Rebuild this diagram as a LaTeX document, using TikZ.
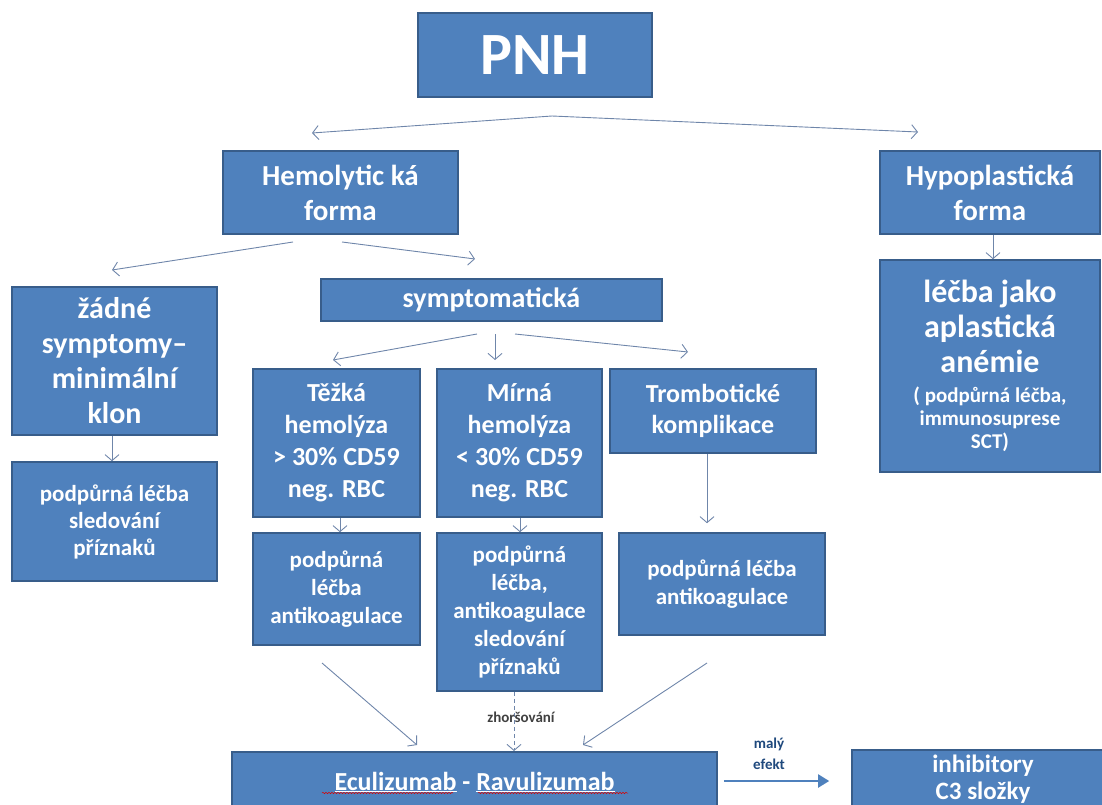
\documentclass[tikz,border=0pt]{standalone}
\usepackage{fontspec}
\setmainfont{Carlito}
\usetikzlibrary{arrows.meta,decorations.pathmorphing}
\definecolor{boxfill}{HTML}{4F81BD}
\definecolor{boxline}{HTML}{385D8A}
\definecolor{conn}{HTML}{6F86AA}
\definecolor{lbl}{HTML}{1F497D}
\definecolor{lbltwo}{HTML}{404040}
\newcommand{\fs}[2]{\fontsize{#1}{#2}\selectfont}
\begin{document}
\begin{tikzpicture}[x=1pt,y=-1pt,
  box/.style={draw=boxline, line width=1.6pt, fill=boxfill, text=white,
    font=\bfseries, align=center, inner sep=0pt},
  conn/.style={draw=conn, line width=0.9pt, -{Straight Barb[length=6pt,width=14pt]}},
  connd/.style={conn, dash pattern=on 4pt off 3pt},
  bigarrow/.style={draw=boxfill, line width=2pt, -{Triangle[length=11pt,width=13pt]}},
  lab/.style={font=\bfseries, inner sep=0pt, align=center}]
\useasboundingbox (0,0) rectangle (1102,805);
\clip (0,0) rectangle (1102,805);

% boxes
\node[box, minimum width=234pt, minimum height=84pt, font=\bfseries\fs{60}{66}] (pnh) at (535,55) {PNH};
\node[box, minimum width=235pt, minimum height=83pt, font=\bfseries\fs{29}{35}] (hemo) at (340.5,192.5) {Hemolytic ká\\forma};
\node[box, minimum width=220pt, minimum height=83pt, font=\bfseries\fs{29}{35}] (hypo) at (990,192.5) {Hypoplastická\\forma};
\node[box, minimum width=220pt, minimum height=212pt, font=\bfseries\fs{32}{35}] (aplas) at (990,366)
  {léčba jako\\aplastická\\anémie\\[-5pt]\fs{21}{23}( podpůrná léčba,\\[-12pt]\fs{21}{23}immunosuprese\\[-12pt]\fs{21}{23}SCT)};
\node[box, minimum width=205pt, minimum height=148pt, font=\bfseries\fs{30}{35}] (zadne) at (114.5,361)
  {žádné\\symptomy–\\minimální\\klon};
\node[box, minimum width=205pt, minimum height=119pt, font=\bfseries\fs{23}{27}] (podpL) at (114.5,521.5)
  {podpůrná léčba\\sledování\\příznaků};
\node[box, minimum width=341pt, minimum height=42pt, font=\bfseries\fs{28}{32}] (sympt) at (491.5,300) {symptomatická};
\node[box, minimum width=167pt, minimum height=148pt, font=\bfseries\fs{26}{32}] (tezka) at (336.5,443)
  {Těžká\\hemolýza\\> 30\% CD59\\neg. RBC};
\node[box, minimum width=165pt, minimum height=148pt, font=\bfseries\fs{26}{32}] (mirna) at (519.5,443)
  {Mírná\\hemolýza\\< 30\% CD59\\neg. RBC};
\node[box, minimum width=206pt, minimum height=84pt, font=\bfseries\fs{26}{31}] (tromb) at (713,411)
  {Trombotické\\komplikace};
\node[box, minimum width=167pt, minimum height=112pt, font=\bfseries\fs{23}{28}] (podpT) at (336.5,589)
  {podpůrná\\léčba\\antikoagulace};
\node[box, minimum width=165pt, minimum height=158pt, font=\bfseries\fs{23}{28}] (podpM) at (519.5,612)
  {podpůrná\\léčba,\\antikoagulace\\sledování\\příznaků};
\node[box, minimum width=206pt, minimum height=102pt, font=\bfseries\fs{23}{28}] (podpTr) at (722,584)
  {podpůrná léčba\\antikoagulace};
\node[box, minimum width=485pt, minimum height=60pt, font=\bfseries\fs{26}{30}] (ecu) at (474.5,782)
  {\underline{Eculizumab} - \underline{Ravulizumab}};
\node[box, minimum width=262pt, minimum height=58pt, font=\bfseries\fs{25}{27}] (inhib) at (983,779)
  {inhibitory\\C3 složky};

% spell-check squiggles
\draw[red!85!black, line width=0.5pt, decorate, decoration={snake, amplitude=0.7pt, segment length=3pt}]
  (322,793) -- (453,793);
\draw[red!85!black, line width=0.5pt, decorate, decoration={snake, amplitude=0.7pt, segment length=3pt}]
  (478,793) -- (628,793);

% connector coordinates
\coordinate (apex) at (552,116);
\coordinate (pnhL) at (312,133);
\coordinate (pnhR) at (918,132);
\coordinate (hemoA) at (293,242);
\coordinate (hemoB) at (342,242);
\coordinate (hemoL) at (112,270);
\coordinate (hemoR) at (475,259);
\coordinate (syA) at (477,334);
\coordinate (syB) at (495,334);
\coordinate (syC) at (515,334);
\coordinate (syL) at (333,360);
\coordinate (syM) at (495,360);
\coordinate (syR) at (688,352);
\coordinate (tromA) at (707,663);
\coordinate (tromB) at (583,745);
\coordinate (tezA) at (322,663);
\coordinate (tezB) at (417,745);
\coordinate (dashA) at (514,691);
\coordinate (dashB) at (514,751);

\draw[conn] (apex) -- (pnhL);
\draw[conn] (apex) -- (pnhR);
\draw[conn] (hemoA) -- (hemoL);
\draw[conn] (hemoB) -- (hemoR);
\draw[conn] (syA) -- (syL);
\draw[conn] (syB) -- (syM);
\draw[conn] (syC) -- (syR);
\draw[conn] (hypo.south -| 993,0) -- (aplas.north -| 993,0);
\draw[conn] (zadne.south -| 112,0) -- (podpL.north -| 112,0);
\draw[conn] (tezka.south -| 340,0) -- (podpT.north -| 340,0);
\draw[conn] (mirna.south -| 520,0) -- (podpM.north -| 520,0);
\draw[conn] (tromb.south -| 707,0) -- ([yshift=9pt]podpTr.north -| 707,0);
\draw[conn] (tezA) -- (tezB);
\draw[conn] (tromA) -- (tromB);
\draw[connd] (podpM.south -| dashA) -- (dashB);
\node[lab, text=lbltwo, font=\bfseries\fs{15}{17}] (zhor) at (521,717) {zhoršování};

\draw[bigarrow] (ecu.east |- 0,781) ++(6,0) coordinate (ecuE) -- ([xshift=-22pt]inhib.west |- 0,781) coordinate (inhW);
\node[lab, text=lbl, font=\bfseries\fs{15}{21}] (maly) at (769,754) {malý\\efekt};
\end{tikzpicture}
\end{document}
